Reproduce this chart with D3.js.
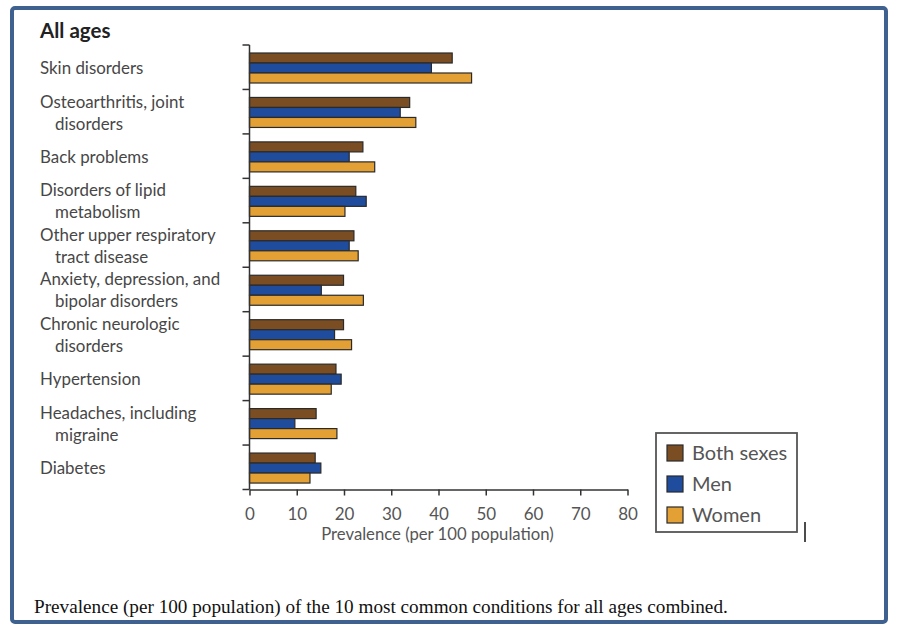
<!DOCTYPE html>
<html>
<head>
<meta charset="utf-8">
<script src="https://cdn.jsdelivr.net/npm/d3@7"></script>
<style>
  html, body { margin: 0; padding: 0; background: #fff; }
  svg { display: block; }
</style>
</head>
<body>
<svg id="chart" width="898" height="634"></svg>
<script>
// ---- Data ----
const categories = [
  "Skin disorders",
  "Osteoarthritis, joint|disorders",
  "Back problems",
  "Disorders of lipid|metabolism",
  "Other upper respiratory|tract disease",
  "Anxiety, depression, and|bipolar disorders",
  "Chronic neurologic|disorders",
  "Hypertension",
  "Headaches, including|migraine",
  "Diabetes"
];
const seriesNames = ["Both sexes", "Men", "Women"];
const bothSexes = [42.9, 33.9, 24.0, 22.5, 22.1, 19.9, 19.9, 18.3, 14.1, 13.9];
const men       = [38.5, 31.9, 21.1, 24.7, 21.1, 15.2, 18.0, 19.4, 9.6, 15.1];
const women     = [47.0, 35.2, 26.5, 20.2, 23.0, 24.1, 21.6, 17.3, 18.5, 12.8];
const xTicks = [0, 10, 20, 30, 40, 50, 60, 70, 80];
const titleText = "All ages";
const xAxisTitle = "Prevalence (per 100 population)";
const captionText = "Prevalence (per 100 population) of the 10 most common conditions for all ages combined.";

// ---- Styles ----
const colors = ["#7a4e22", "#1f4c9c", "#e3a034"];
const labelFont = "Lato, 'Open Sans', sans-serif";
const textColor = "#474747";

const svg = d3.select("#chart");

// frame
svg.append("rect")
  .attr("x", 12).attr("y", 8)
  .attr("width", 874).attr("height", 614)
  .attr("rx", 3)
  .attr("fill", "#fff")
  .attr("stroke", "#3f6190")
  .attr("stroke-width", 4);

const plotLeft = 249.5, plotRight = 627.5, plotTop = 45, plotBottom = 489.5;

const x = d3.scaleLinear().domain([0, 80]).range([plotLeft, plotRight]);
const y = d3.scaleBand().domain(d3.range(categories.length)).range([plotTop, plotBottom]);

const values = [bothSexes, men, women];
const barH = 10;
const barOffset = 8;

// bars
categories.forEach((c, i) => {
  values.forEach((arr, s) => {
    svg.append("rect")
      .attr("x", x(0))
      .attr("y", y(i) + barOffset + s * barH)
      .attr("width", x(arr[i]) - x(0))
      .attr("height", barH)
      .attr("fill", colors[s])
      .attr("stroke", "#2a2a2a")
      .attr("stroke-width", 1.2);
  });
});

// y axis line + ticks
const yTickPositions = d3.range(categories.length + 1).map(i => plotTop + i * y.step());
svg.append("line")
  .attr("x1", plotLeft).attr("x2", plotLeft)
  .attr("y1", plotTop).attr("y2", plotBottom)
  .attr("stroke", "#333").attr("stroke-width", 1.5);
svg.selectAll(".ytick").data(yTickPositions).enter().append("line")
  .attr("x1", plotLeft - 7).attr("x2", plotLeft)
  .attr("y1", d => d).attr("y2", d => d)
  .attr("stroke", "#333").attr("stroke-width", 1.5);

// x axis
const xAxis = d3.axisBottom(x).tickValues(xTicks).tickSize(6).tickSizeOuter(0).tickPadding(12);
const gx = svg.append("g").attr("transform", `translate(0,${plotBottom})`).call(xAxis);
gx.select(".domain").attr("stroke", "#333").attr("stroke-width", 1.5);
gx.selectAll(".tick line").attr("stroke", "#333").attr("stroke-width", 1.5);
gx.selectAll(".tick text")
  .attr("font-family", labelFont).attr("font-size", 17).attr("fill", "#555");

svg.append("text")
  .attr("x", (plotLeft + plotRight) / 2 - 1).attr("y", 540)
  .attr("text-anchor", "middle")
  .attr("font-family", labelFont).attr("font-size", 16.7).attr("fill", "#555")
  .text(xAxisTitle);

// title
svg.append("text")
  .attr("x", 40).attr("y", 38)
  .attr("font-family", labelFont).attr("font-size", 20.5).attr("font-weight", "bold")
  .attr("fill", "#222")
  .text(titleText);

// category labels
categories.forEach((c, i) => {
  const lines = c.split("|");
  const cy = y(i) + y.bandwidth() / 2 + 1;
  lines.forEach((ln, k) => {
    const off = lines.length === 1 ? 0 : (k === 0 ? -11 : 11);
    svg.append("text")
      .attr("x", k === 0 ? 40 : 55)
      .attr("y", cy + off)
      .attr("dy", "0.35em")
      .attr("font-family", labelFont).attr("font-size", 16.9)
      .attr("fill", textColor)
      .text(ln);
  });
});

// legend
const lg = svg.append("g");
lg.append("rect")
  .attr("x", 656).attr("y", 433).attr("width", 141).attr("height", 99)
  .attr("fill", "#fff").attr("stroke", "#555").attr("stroke-width", 1.8);
seriesNames.forEach((n, s) => {
  const cy = 453 + s * 31;
  lg.append("rect")
    .attr("x", 667).attr("y", cy - 8).attr("width", 16).attr("height", 16)
    .attr("fill", colors[s]).attr("stroke", "#2a2a2a").attr("stroke-width", 1.2);
  lg.append("text")
    .attr("x", 692).attr("y", cy).attr("dy", "0.35em")
    .attr("font-family", labelFont).attr("font-size", 20).attr("fill", "#555")
    .text(n);
});

// stray vertical mark
svg.append("line")
  .attr("x1", 805).attr("x2", 805).attr("y1", 522).attr("y2", 542)
  .attr("stroke", "#111").attr("stroke-width", 1.5);

// caption
svg.append("text")
  .attr("x", 34).attr("y", 613)
  .attr("font-family", "'Liberation Serif', 'Times New Roman', serif")
  .attr("font-size", 19.2).attr("fill", "#111")
  .text(captionText);
</script>
</body>
</html>
